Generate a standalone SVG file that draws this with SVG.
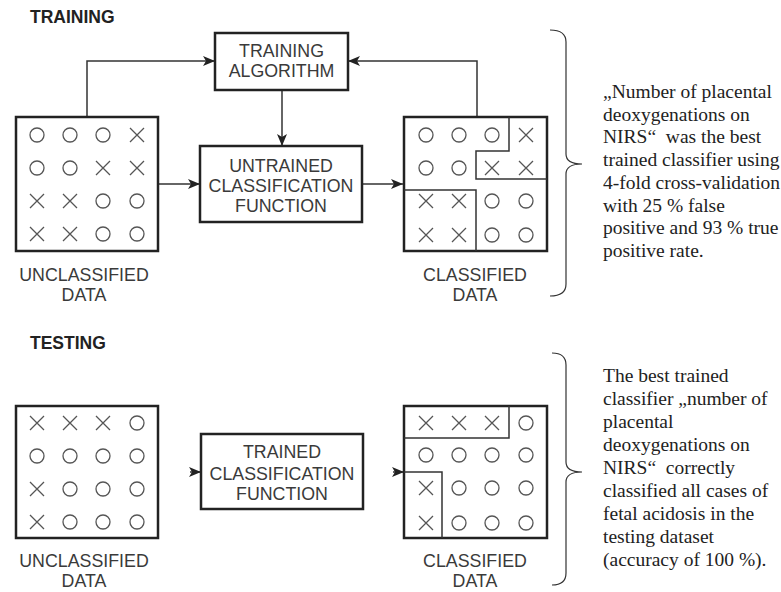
<svg xmlns="http://www.w3.org/2000/svg" width="781" height="592" viewBox="0 0 781 592">
<defs>
<marker id="ah" viewBox="0 0 12 10" refX="12" refY="5" markerWidth="12" markerHeight="10" markerUnits="userSpaceOnUse" orient="auto">
<path d="M0,0 L12,5 L0,10 L3,5 Z" fill="#222"/>
</marker>
<g id="o"><circle r="7" fill="none" stroke="#555" stroke-width="1.3"/></g>
<g id="x"><path d="M-7,-7 L7,7 M7,-7 L-7,7" fill="none" stroke="#555" stroke-width="1.3"/></g>
</defs>
<style>
.box{fill:#fff;stroke:#222;stroke-width:2.5}
.part{fill:none;stroke:#333;stroke-width:1.5}
.conn{fill:none;stroke:#333;stroke-width:1.5}
.lbl{font-family:"Liberation Sans",Arial,sans-serif;font-size:17.8px;fill:#3a3a3a;text-anchor:middle}
.head{font-family:"Liberation Sans",Arial,sans-serif;font-size:17.5px;font-weight:bold;fill:#222}
.note{font-family:"Liberation Serif","Times New Roman",serif;font-size:19.5px;fill:#222}
.brace{fill:none;stroke:#333;stroke-width:1.2}
</style>
<rect width="781" height="592" fill="#fff"/>

<text class="head" x="30" y="23">TRAINING</text>
<text class="head" x="30" y="349">TESTING</text>

<g id="connectors">
<path class="conn" d="M87,117 V61 H215" marker-end="url(#ah)"/>
<path class="conn" d="M477,117 V61 H348" marker-end="url(#ah)"/>
<path class="conn" d="M282,90 V146" marker-end="url(#ah)"/>
<path class="conn" d="M158,184 H200" marker-end="url(#ah)"/>
<path class="conn" d="M362,184 H403" marker-end="url(#ah)"/>
<path class="conn" d="M190,472 H201" marker-end="url(#ah)"/>
<path class="conn" d="M393,472 H404" marker-end="url(#ah)"/>
</g>

<g id="training-algorithm">
<rect class="box" x="215" y="33" width="133" height="57"/>
<text class="lbl" x="281.5" y="57">TRAINING</text>
<text class="lbl" x="281.5" y="77">ALGORITHM</text>
</g>

<g id="untrained-function">
<rect class="box" x="200" y="146" width="162" height="76"/>
<text class="lbl" x="281" y="172">UNTRAINED</text>
<text class="lbl" x="281" y="192">CLASSIFICATION</text>
<text class="lbl" x="281" y="212">FUNCTION</text>
</g>

<g id="train-unclassified">
<rect class="box" x="16" y="117" width="142" height="134"/>
<use href="#o" x="37" y="135"/><use href="#o" x="70" y="135"/><use href="#o" x="103" y="135"/><use href="#x" x="137" y="135"/>
<use href="#o" x="37" y="168"/><use href="#o" x="70" y="168"/><use href="#x" x="103" y="168"/><use href="#x" x="137" y="168"/>
<use href="#x" x="37" y="201"/><use href="#x" x="70" y="201"/><use href="#o" x="103" y="201"/><use href="#o" x="137" y="201"/>
<use href="#x" x="37" y="234"/><use href="#x" x="70" y="234"/><use href="#o" x="103" y="234"/><use href="#o" x="137" y="234"/>
<text class="lbl" x="84" y="281">UNCLASSIFIED</text>
<text class="lbl" x="84" y="301">DATA</text>
</g>

<g id="train-classified">
<rect class="box" x="404" y="117" width="143" height="134"/>
<path class="part" d="M509,117 V151 H476 V179 H547 M404,190 H476 V251"/>
<use href="#o" x="426" y="135"/><use href="#o" x="459" y="135"/><use href="#o" x="492" y="135"/><use href="#x" x="526" y="135"/>
<use href="#o" x="426" y="168"/><use href="#o" x="459" y="168"/><use href="#x" x="492" y="168"/><use href="#x" x="526" y="168"/>
<use href="#x" x="426" y="201"/><use href="#x" x="459" y="201"/><use href="#o" x="492" y="201"/><use href="#o" x="526" y="201"/>
<use href="#x" x="426" y="235"/><use href="#x" x="459" y="235"/><use href="#o" x="492" y="235"/><use href="#o" x="526" y="235"/>
<text class="lbl" x="475" y="281">CLASSIFIED</text>
<text class="lbl" x="475" y="301">DATA</text>
</g>

<g id="training-note">
<path class="brace" d="M550,30 Q566,30 566,42 L566,154 Q566,164 582,164 Q566,164 566,174 L566,284 Q566,296 550,296"/>
<text class="note" x="603" y="98">„Number of placental</text>
<text class="note" x="603" y="120.7">deoxygenations on</text>
<text class="note" x="603" y="143.4" xml:space="preserve">NIRS“  was the best</text>
<text class="note" x="603" y="166.1">trained classifier using</text>
<text class="note" x="603" y="188.8">4-fold cross-validation</text>
<text class="note" x="603" y="211.5">with 25 % false</text>
<text class="note" x="603" y="234.2">positive and 93 % true</text>
<text class="note" x="603" y="256.9">positive rate.</text>
</g>

<g id="trained-function">
<rect class="box" x="201" y="434" width="162" height="75"/>
<text class="lbl" x="282" y="458">TRAINED</text>
<text class="lbl" x="282" y="480">CLASSIFICATION</text>
<text class="lbl" x="282" y="500">FUNCTION</text>
</g>

<g id="test-unclassified">
<rect class="box" x="16" y="406" width="142" height="132"/>
<use href="#x" x="37" y="423"/><use href="#x" x="70" y="423"/><use href="#x" x="103" y="423"/><use href="#o" x="137" y="423"/>
<use href="#o" x="37" y="456"/><use href="#o" x="70" y="456"/><use href="#o" x="103" y="456"/><use href="#o" x="137" y="456"/>
<use href="#x" x="37" y="489"/><use href="#o" x="70" y="489"/><use href="#o" x="103" y="489"/><use href="#o" x="137" y="489"/>
<use href="#x" x="37" y="522"/><use href="#o" x="70" y="522"/><use href="#o" x="103" y="522"/><use href="#o" x="137" y="522"/>
<text class="lbl" x="84" y="567">UNCLASSIFIED</text>
<text class="lbl" x="84" y="587">DATA</text>
</g>

<g id="test-classified">
<rect class="box" x="404" y="406" width="143" height="132"/>
<path class="part" d="M509,406 V438 H404 M404,472 H442 V538"/>
<use href="#x" x="426" y="423"/><use href="#x" x="459" y="423"/><use href="#x" x="492" y="423"/><use href="#o" x="526" y="423"/>
<use href="#o" x="426" y="455"/><use href="#o" x="459" y="455"/><use href="#o" x="492" y="455"/><use href="#o" x="526" y="455"/>
<use href="#x" x="426" y="488"/><use href="#o" x="459" y="488"/><use href="#o" x="492" y="488"/><use href="#o" x="526" y="488"/>
<use href="#x" x="426" y="523"/><use href="#o" x="459" y="523"/><use href="#o" x="492" y="523"/><use href="#o" x="526" y="523"/>
<text class="lbl" x="475" y="567">CLASSIFIED</text>
<text class="lbl" x="475" y="587">DATA</text>
</g>

<g id="testing-note">
<path class="brace" d="M552,353 Q566,353 566,365 L566,462 Q566,472 582,472 Q566,472 566,482 L566,573 Q566,585 552,585"/>
<text class="note" x="603" y="382">The best trained</text>
<text class="note" x="603" y="405">classifier „number of</text>
<text class="note" x="603" y="428">placental</text>
<text class="note" x="603" y="451">deoxygenations on</text>
<text class="note" x="603" y="474" xml:space="preserve">NIRS“  correctly</text>
<text class="note" x="603" y="497">classified all cases of</text>
<text class="note" x="603" y="520">fetal acidosis in the</text>
<text class="note" x="603" y="543">testing dataset</text>
<text class="note" x="603" y="566">(accuracy of 100 %).</text>
</g>
</svg>
